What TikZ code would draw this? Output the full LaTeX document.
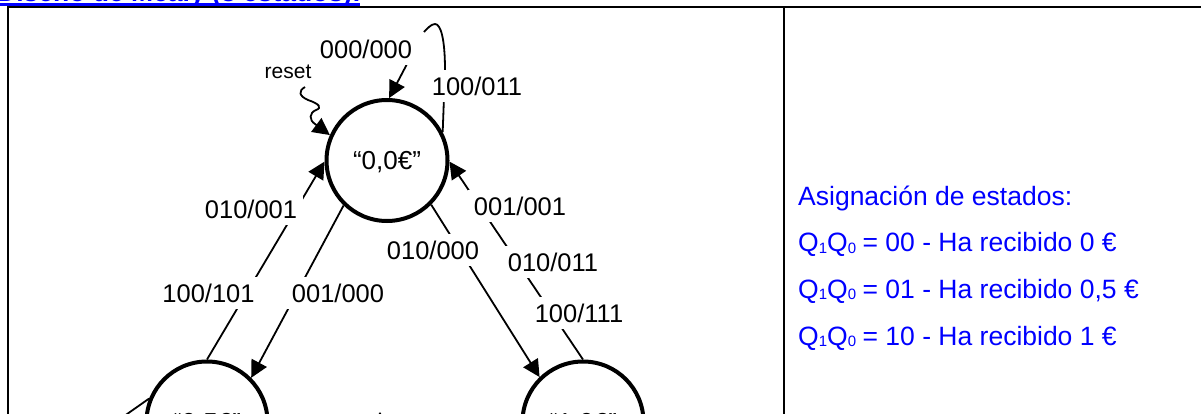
\documentclass[tikz,border=0pt]{standalone}
\usepackage{fontspec}
\setmainfont{Liberation Sans}
\usetikzlibrary{arrows.meta}
\definecolor{pureblue}{RGB}{0,0,255}
\newcommand{\QQ}{Q\raisebox{-1.5pt}{\fontsize{15}{15}\selectfont 1}Q\raisebox{-1.5pt}{\fontsize{15}{15}\selectfont 0}\hspace{6.5pt}}
\tikzset{
  stateno/.style={circle,draw=black,line width=4pt,fill=white,minimum size=121pt,inner sep=0pt,
    font=\fontsize{26}{30}\selectfont,text height=18.7pt,text depth=0pt},
  conn/.style={draw=black,line width=1.8pt},
  arr/.style={conn,-{Triangle[length=17pt,width=17pt]}},
  lab/.style={fill=white,inner sep=0pt,minimum width=104pt,minimum height=32pt,
    font=\fontsize{25.5}{30}\selectfont},
  info/.style={anchor=base west,inner sep=0pt,text=pureblue,font=\fontsize{26.5}{30}\selectfont},
  frameline/.style={draw=black,line width=2.4pt}
}
\begin{document}
\begin{tikzpicture}[x=1pt,y=-1pt]
\useasboundingbox (0,0) rectangle (1201,414);
\clip (0,0) rectangle (1201,414);
\fill[white] (0,0) rectangle (1201,414);
% title
\node[anchor=base west,inner sep=0pt,text=pureblue,font=\bfseries\fontsize{26.5}{30}\selectfont] (title) at (-3,2) {Diseño de Mealy (3 estados):};
\fill[pureblue] (0,3.3) rectangle (360,5.7);
% frame
\draw[frameline] (8,414) -- (8,7) -- (1201,7);
\draw[frameline] (784,7) -- (784,414);
% states
\node[stateno] (s0) at (387,160.5) {“0,0€”};
\node[stateno] (s1) at (207,422) {“0,5€”};
\node[stateno] (s2) at (583,422) {“1,0€”};
% free ends
\coordinate (rst) at (305,87);
\coordinate (in0) at (407,64);
\coordinate (lend) at (424,32);
\coordinate (lft) at (120,419);
% connectors
\draw[arr] (rst) .. controls (298,91) and (299,96) .. (308,100)
   .. controls (320,104) and (322,108) .. (316,110)
   .. controls (309,113) and (309,120) .. (315,124) -- (s0.156);
\draw[arr] (in0) -- (s0.88);
\draw[conn] (s0.27) -- (445,70) .. controls (445,40) and (441,24) .. (435,24)
   .. controls (431,24) and (427,29) .. (lend);
\draw[arr] (s1.90) -- (s0.181);
\draw[arr] (s0.226) -- (s1.45.6);
\draw[arr] (s0.-45.8) -- (s2.134);
\draw[arr] (s2.90) -- (s0.-1.5);
\draw[conn] (lft) -- (s1.158.8);
\draw[conn] (379.5,412.7) -- (380.5,414.5);
% labels
\node[inner sep=0pt,font=\fontsize{21}{25}\selectfont] (reset) at (288,72) {reset};
\node[lab] (l1) at (366,49) {000/000};
\node[lab] (l2) at (477,86) {100/011};
\node[lab] (l3) at (251,209) {010/001};
\node[lab] (l4) at (208.5,293) {100/101};
\node[lab] (l5) at (338,293) {001/000};
\node[lab] (l6) at (433,250) {010/000};
\node[lab] (l7) at (520,206) {001/001};
\node[lab] (l8) at (553,262) {010/011};
\node[lab] (l9) at (579,313) {100/111};
% state assignment
\node[info] (i0) at (798,205) {Asignación de estados:};
\node[info] (i1) at (798,251.7) {\QQ= 00 - Ha recibido 0 €};
\node[info] (i2) at (798,298) {\QQ= 01 - Ha recibido 0,5 €};
\node[info] (i3) at (798,345) {\QQ= 10 - Ha recibido 1 €};
\end{tikzpicture}
\end{document}
